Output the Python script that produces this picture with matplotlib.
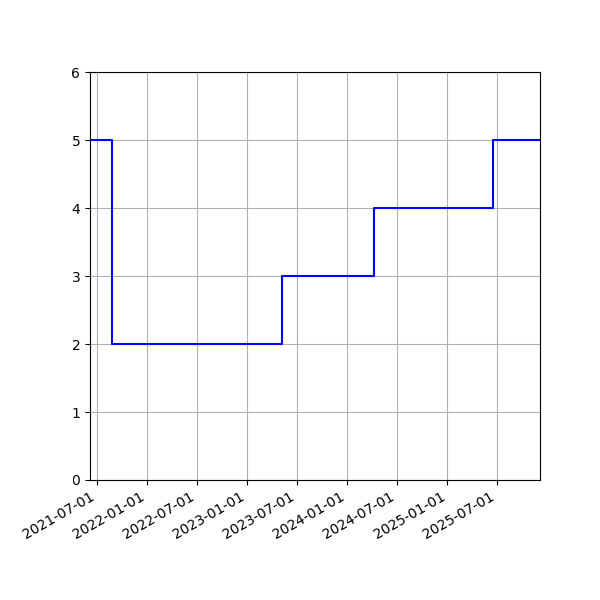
import matplotlib
matplotlib.use('Agg')
import matplotlib.pyplot as plt
import matplotlib.dates as mdates
import numpy as np

# Fechas de cambio y niveles
fechas = np.array(['2021-06-07', '2021-08-26', '2023-05-10', '2024-04-08',
                   '2025-06-15', '2025-12-05'], dtype='datetime64[D]')
niveles = [5, 2, 3, 4, 5, 5]

fig, ax = plt.subplots(figsize=(6, 6), dpi=100)
fig.subplots_adjust(left=0.15, right=0.9, top=0.88, bottom=0.2)

ax.step(fechas, niveles, where='post', color='blue')
ax.set_xlim(fechas[0], fechas[-1])
ax.set_ylim(0, 6)
ax.grid(True)

ax.xaxis.set_major_locator(mdates.MonthLocator(bymonth=[1, 7]))
ax.xaxis.set_major_formatter(mdates.DateFormatter('%Y-%m-%d'))
fig.autofmt_xdate()
fig.subplots_adjust(left=0.15, right=0.9, top=0.88, bottom=0.2)

fig.savefig('out.png')
